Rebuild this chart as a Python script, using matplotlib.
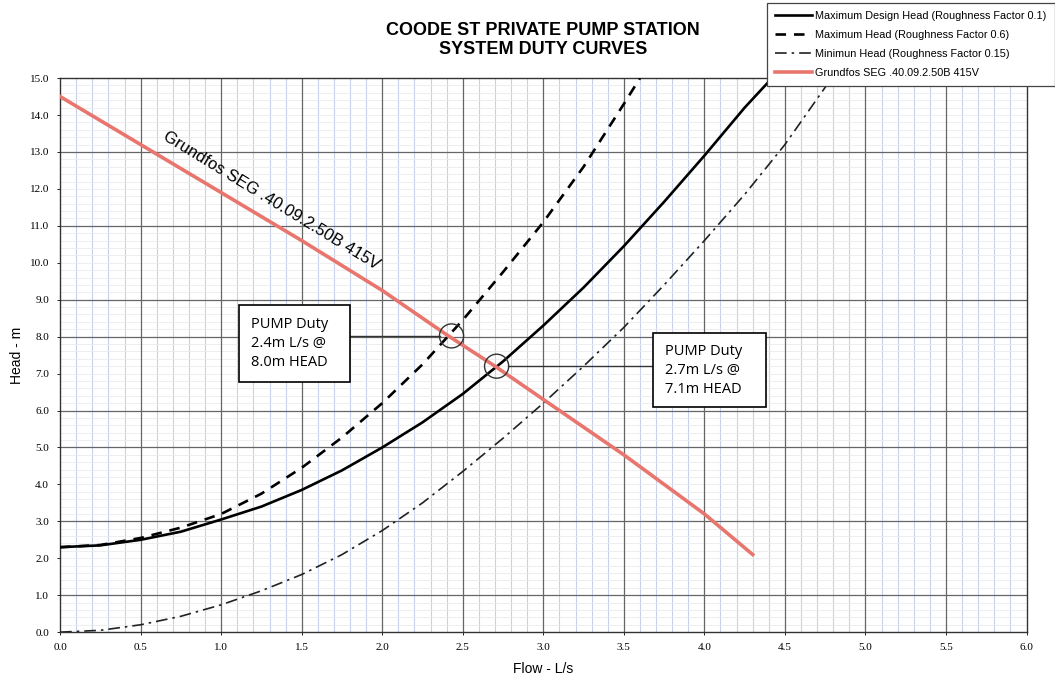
import numpy as np
import matplotlib
matplotlib.use("Agg")
import matplotlib.pyplot as plt
from matplotlib.patches import Ellipse, Rectangle

# data (flow L/s, head m)
q_design = [0.0, 0.25, 0.5, 0.75, 1.0, 1.25, 1.5, 1.75, 2.0, 2.25, 2.5, 2.75,
            3.0, 3.25, 3.5, 3.75, 4.0, 4.25, 4.42]
h_design = [2.3, 2.35, 2.5, 2.72, 3.05, 3.4, 3.85, 4.38, 5.0, 5.68, 6.45, 7.33,
            8.3, 9.33, 10.45, 11.65, 12.9, 14.2, 15.0]

q_max = [0.0, 0.25, 0.5, 0.75, 1.0, 1.25, 1.5, 1.75, 2.0, 2.25, 2.5, 2.75,
         3.0, 3.25, 3.5, 3.6]
h_max = [2.3, 2.36, 2.55, 2.83, 3.2, 3.75, 4.45, 5.27, 6.2, 7.25, 8.45, 9.75,
         11.1, 12.6, 14.3, 15.0]

q_min = [0.0, 0.25, 0.5, 0.75, 1.0, 1.25, 1.5, 1.75, 2.0, 2.25, 2.5, 2.75,
         3.0, 3.25, 3.5, 3.75, 4.0, 4.25, 4.5, 4.75, 4.8]
h_min = [0.0, 0.05, 0.2, 0.43, 0.74, 1.12, 1.56, 2.1, 2.75, 3.5, 4.35, 5.25,
         6.2, 7.2, 8.25, 9.4, 10.6, 11.85, 13.2, 14.75, 15.0]

q_pump = [0.0, 0.5, 1.0, 1.5, 2.0, 2.4, 2.7, 3.0, 3.5, 4.0, 4.3]
h_pump = [14.5, 13.2, 11.9, 10.6, 9.25, 8.05, 7.2, 6.3, 4.8, 3.2, 2.1]

labels = ["Maximum Design Head (Roughness Factor 0.1)",
          "Maximum Head (Roughness Factor 0.6)",
          "Minimun Head (Roughness Factor 0.15)",
          "Grundfos SEG .40.09.2.50B 415V"]

duty_pts = [(2.43, 8.02), (2.71, 7.2)]
duty_txt = ["PUMP Duty\n2.4m L/s @\n8.0m HEAD", "PUMP Duty\n2.7m L/s @\n7.1m HEAD"]

# heavy horizontal rulings on the printed paper
dark_h = [1, 3, 5, 6, 8, 9, 11, 13]

fig = plt.figure(figsize=(10.55, 6.79), dpi=100)
ax = fig.add_axes([0.057, 0.069, 0.916, 0.816])

ax.set_xlim(0, 6)
ax.set_ylim(0, 15)

# graph paper grid
for x in np.arange(0.1, 6.0, 0.1):
    if abs(x * 2 - round(x * 2)) < 1e-6:
        ax.axvline(x, color="#666666", lw=0.9, zorder=1)
    else:
        ax.axvline(x, color="#c8d1ea", lw=0.8, zorder=0)
for y in np.arange(0.2, 15.0, 0.2):
    ax.axhline(y, color="#ebebeb", lw=0.6, zorder=0)
for y in dark_h:
    ax.axhline(y, color="#666666", lw=0.9, zorder=1)

ax.plot(q_design, h_design, color="black", lw=1.9, label=labels[0], zorder=3)
ax.plot(q_max, h_max, color="black", lw=1.9, ls=(0, (4, 3)), label=labels[1], zorder=3)
ax.plot(q_min, h_min, color="#222222", lw=1.2, ls=(0, (7, 3, 1.5, 3)), label=labels[2], zorder=3)
ax.plot(q_pump, h_pump, color="#e8766e", lw=2.6, label=labels[3], zorder=3)

ax.text(1.31, 11.68, "Grundfos SEG .40.09.2.50B 415V", rotation=-31.5,
        ha="center", va="center", fontsize=12, family="Liberation Sans",
        rotation_mode="anchor", zorder=4)

# duty points with callouts
for (qx, hy) in duty_pts:
    ax.add_patch(Ellipse((qx, hy), 0.15, 0.65, fill=False, ec="#333333", lw=1.0, zorder=5))
ax.plot([1.80, duty_pts[0][0] - 0.07], [8.02, 8.02], color="#333333", lw=1.0, zorder=4)
ax.plot([duty_pts[1][0] + 0.07, 3.68], [7.2, 7.2], color="#333333", lw=1.0, zorder=4)

ax.add_patch(Rectangle((1.11, 6.77), 0.69, 2.08, fc="white", ec="black", lw=1.2, zorder=6))
ax.add_patch(Rectangle((3.68, 6.09), 0.705, 2.01, fc="white", ec="black", lw=1.2, zorder=6))
ax.text(1.185, 7.81, duty_txt[0], ha="left", va="center", fontsize=10.5,
        family="Open Sans", linespacing=1.35, zorder=7)
ax.text(3.753, 7.09, duty_txt[1], ha="left", va="center", fontsize=10.5,
        family="Open Sans", linespacing=1.35, zorder=7)

ax.set_xticks(np.arange(0, 6.01, 0.5))
ax.set_yticks(np.arange(0, 15.01, 1.0))
ax.set_xticklabels(["%.1f" % v for v in np.arange(0, 6.01, 0.5)], family="Liberation Serif", fontsize=8)
ax.set_yticklabels(["%.1f" % v for v in np.arange(0, 15.01, 1.0)], family="Liberation Serif", fontsize=8)
ax.tick_params(length=2, width=0.6, pad=6)
for s in ax.spines.values():
    s.set_linewidth(1.0)
    s.set_color("#333333")

ax.set_xlabel("Flow - L/s", fontsize=10, family="Liberation Sans", labelpad=7)
ax.set_ylabel("Head - m", fontsize=10, family="Liberation Sans", labelpad=4)

fig.text(0.515, 0.955, "COODE ST PRIVATE PUMP STATION", ha="center", va="center",
         fontsize=13, fontweight="bold", family="Liberation Sans")
fig.text(0.515, 0.927, "SYSTEM DUTY CURVES", ha="center", va="center",
         fontsize=13, fontweight="bold", family="Liberation Sans")

leg = fig.legend(loc="upper left", bbox_to_anchor=(0.722, 1.004), frameon=True,
                 fancybox=False, handlelength=3.4, handletextpad=0.3, borderpad=0.75,
                 labelspacing=0.83, prop={"family": "Liberation Sans", "size": 7.8})
leg.get_frame().set_edgecolor("#444444")
leg.get_frame().set_linewidth(0.9)
leg.get_frame().set_alpha(1)

fig.savefig("out.png", dpi=100)
